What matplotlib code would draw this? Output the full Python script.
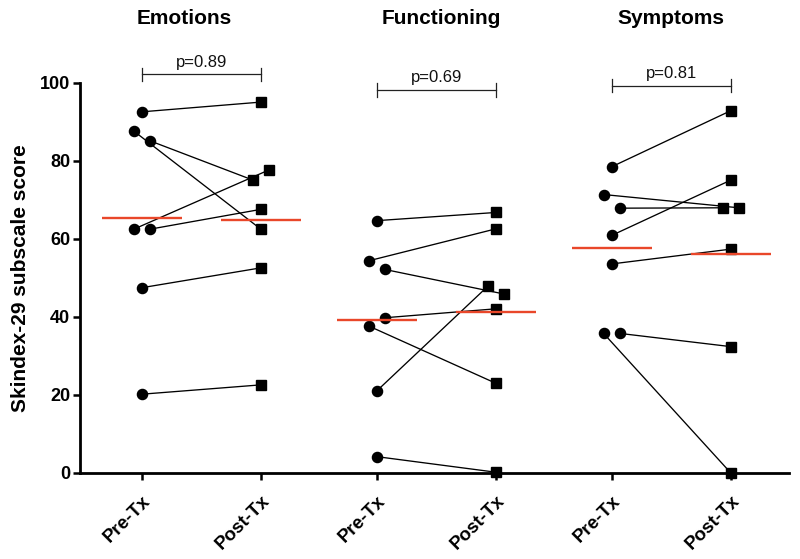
import matplotlib
matplotlib.use("Agg")
import matplotlib.pyplot as plt
import numpy as np

# ---------------- data ----------------
groups = ["Emotions", "Functioning", "Symptoms"]
tick_labels = ["Pre-Tx", "Post-Tx"]
p_values = ["p=0.89", "p=0.69", "p=0.81"]

emotions_pre = [92.6, 87.7, 85.2, 62.5, 62.5, 47.5, 20.2]
emotions_post = [95.1, 62.5, 75.1, 77.7, 67.6, 52.6, 22.6]
functioning_pre = [64.7, 54.4, 37.7, 39.8, 21.0, 52.2, 4.2]
functioning_post = [66.8, 62.6, 23.0, 42.1, 47.9, 45.9, 0.2]
symptoms_pre = [78.5, 71.4, 67.9, 60.9, 53.6, 35.8, 35.8]
symptoms_post = [92.9, 68.0, 68.0, 75.1, 57.4, 32.4, 0.0]

# ---------------- layout (dodge of overlapping points, bracket heights) ----------------
emotions_dodge = ([0, -1, 1, -1, 1, 0, 0], [0, 0, -1, 1, 0, 0, 0])
functioning_dodge = ([0, -1, -1, 1, 0, 1, 0], [0, 0, 0, 0, -1, 1, 0])
symptoms_dodge = ([0, -1, 1, 0, 0, 1, -1], [0, 1, -1, 0, 0, 0, 0])
bracket_y = [102.2, 98.2, 99.3]
title_x_shift = [-0.14, 0.04, 0.0]

series = [
    (emotions_pre, emotions_post, emotions_dodge),
    (functioning_pre, functioning_post, functioning_dodge),
    (symptoms_pre, symptoms_post, symptoms_dodge),
]

plt.rcParams["font.family"] = ["Liberation Sans", "DejaVu Sans"]

fig = plt.figure(figsize=(8.0, 5.59), dpi=100)
ax = fig.add_axes([0.1, 0.15385, 0.886, 0.6977])

group_step = 1.97
dodge_w = 0.067
half_w = 0.335
red = "#E9472A"

xticks = []
for g, (pre, post, (dpre, dpost)) in enumerate(series):
    x0 = g * group_step
    x1 = x0 + 1
    xticks += [x0, x1]
    pre = np.asarray(pre)
    post = np.asarray(post)
    xp = x0 + dodge_w * np.asarray(dpre)
    xq = x1 + dodge_w * np.asarray(dpost)
    for a, b, c, d in zip(xp, pre, xq, post):
        ax.plot([a, c], [b, d], color="black", lw=0.95, zorder=3, clip_on=False)
    ax.plot(xp, pre, "o", color="black", ms=7.3, zorder=4, clip_on=False)
    ax.plot(xq, post, "s", color="black", ms=6.6, zorder=4, clip_on=False)
    # means
    ax.plot([x0 - half_w, x0 + half_w], [pre.mean()] * 2, color=red, lw=1.7,
            zorder=5, clip_on=False, solid_capstyle="butt")
    ax.plot([x1 - half_w, x1 + half_w], [post.mean()] * 2, color=red, lw=1.7,
            zorder=5, clip_on=False, solid_capstyle="butt")
    # significance bracket
    by = bracket_y[g]
    ax.plot([x0, x1], [by, by], color="#222222", lw=0.9, clip_on=False)
    for xx in (x0, x1):
        ax.plot([xx, xx], [by - 1.7, by + 1.7], color="#222222", lw=0.9, clip_on=False)
    ax.text((x0 + x1) / 2, by + 2.0, p_values[g], ha="center", va="baseline",
            fontsize=12, color="#111111", clip_on=False)
    # title
    ax.text((x0 + x1) / 2 + title_x_shift[g], 115.1, groups[g], ha="center",
            va="baseline", fontsize=15, fontweight="bold", clip_on=False)

ax.set_xlim(-0.517, 5.426)
ax.set_ylim(0, 100)
ax.set_xticks(xticks)
ax.set_xticklabels(tick_labels * 3, rotation=45, ha="right", va="top",
                   rotation_mode="anchor", fontsize=13.5, fontweight="bold")
ax.set_yticks([0, 20, 40, 60, 80, 100])
ax.set_yticklabels(["0", "20", "40", "60", "80", "100"], fontsize=13, fontweight="bold")
ax.set_ylabel("Skindex-29 subscale score", fontsize=15, fontweight="bold", labelpad=7)

for s in ("top", "right"):
    ax.spines[s].set_visible(False)
for s in ("left", "bottom"):
    ax.spines[s].set_linewidth(2.0)
ax.tick_params(axis="y", length=5, width=1.8, pad=2)
ax.tick_params(axis="x", length=5, width=1.8, pad=9)

fig.savefig("out.png", dpi=100)
